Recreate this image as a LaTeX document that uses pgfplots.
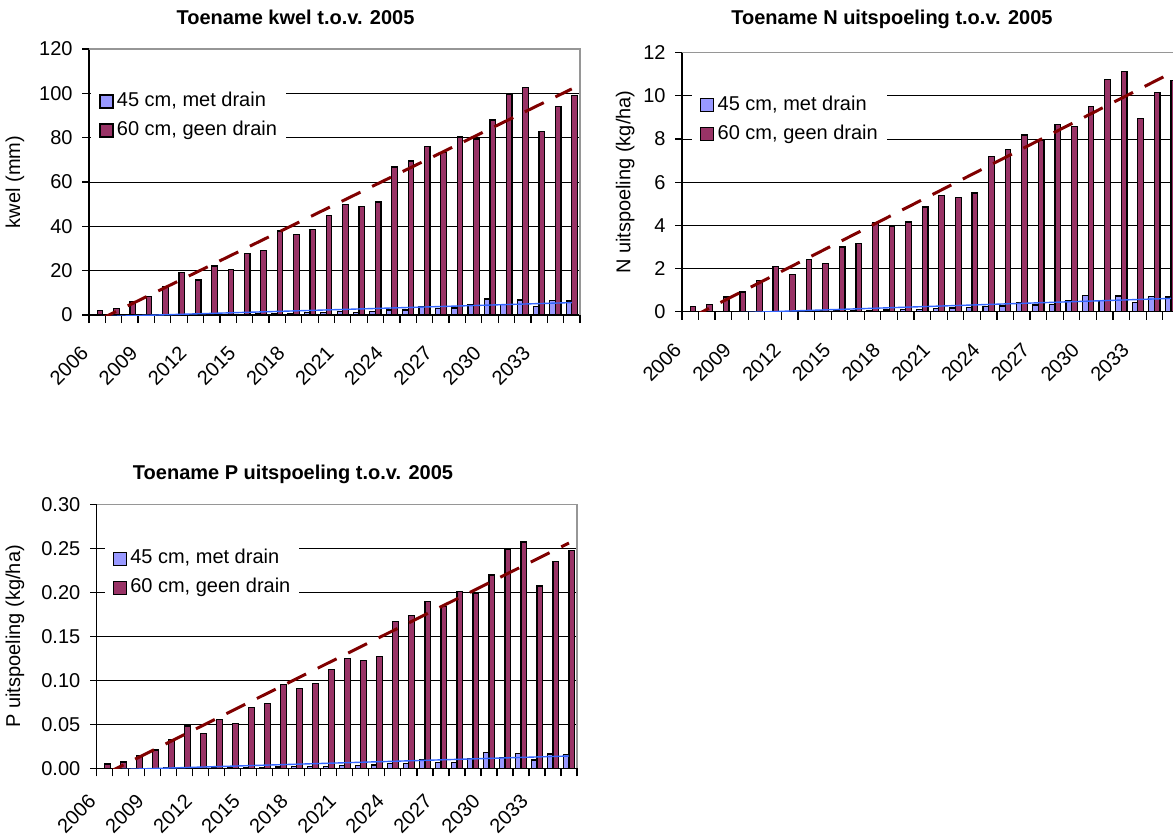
\documentclass[border=0pt]{standalone}
\usepackage{fontspec}
\setmainfont{Liberation Sans}
\usepackage{pgfplots}
\usepackage{pgfplotstable}
\pgfplotsset{compat=1.18}

\definecolor{lavender}{RGB}{153,153,255}
\definecolor{plum}{RGB}{153,51,102}
\definecolor{trendred}{RGB}{128,0,0}
\definecolor{trendblue}{RGB}{51,102,255}
\definecolor{framegray}{RGB}{150,150,150}

% i = category index (2006 = 0), a = 45 cm met drain, b = 60 cm geen drain
\pgfplotstableread{
i  a     b
0  0     1.9
1  0     3.0
2  0     6.0
3  0     8.3
4  0.2   12.9
5  0.1   19.1
6  0.2   15.8
7  0.3   22.1
8  0.3   20.4
9  0.4   27.7
10 0.5   29.2
11 0.7   37.9
12 0.8   36.2
13 1.1   38.5
14 1.3   45.0
15 1.5   49.9
16 1.2   49.0
17 1.5   51.0
18 2.3   66.8
19 2.3   69.5
20 3.9   75.9
21 2.9   73.4
22 3.2   80.3
23 4.7   79.4
24 7.2   88.0
25 4.8   99.7
26 6.8   102.7
27 3.9   82.9
28 6.6   94.0
29 6.3   98.9
}\kwel

\pgfplotstableread{
i  a     b
0  0     0.25
1  0     0.34
2  0     0.68
3  0     0.91
4  0.02  1.44
5  0.01  2.10
6  0.02  1.72
7  0.03  2.41
8  0.03  2.23
9  0.04  3.00
10 0.05  3.17
11 0.07  4.12
12 0.08  3.93
13 0.11  4.16
14 0.12  4.85
15 0.15  5.38
16 0.17  5.30
17 0.20  5.50
18 0.23  7.20
19 0.26  7.51
20 0.40  8.19
21 0.31  7.95
22 0.33  8.67
23 0.50  8.58
24 0.76  9.50
25 0.51  10.77
26 0.73  11.13
27 0.42  8.95
28 0.71  10.17
29 0.68  10.71
}\nuit

\pgfplotstableread{
i  a       b
0  0       0.0049
1  0       0.0072
2  0       0.0150
3  0       0.0208
4  0.0005  0.0330
5  0.0002  0.0480
6  0.0005  0.0394
7  0.0007  0.0553
8  0.0007  0.0511
9  0.0009  0.0693
10 0.0011  0.0735
11 0.0016  0.0950
12 0.0019  0.0909
13 0.0025  0.0966
14 0.0023  0.1125
15 0.0030  0.1244
16 0.0030  0.1227
17 0.0038  0.1273
18 0.0057  0.1667
19 0.0057  0.1735
20 0.0095  0.1898
21 0.0064  0.1841
22 0.0068  0.2011
23 0.0114  0.1989
24 0.0178  0.2197
25 0.0121  0.2492
26 0.0170  0.2572
27 0.0095  0.2072
28 0.0163  0.2352
29 0.0155  0.2477
}\puit

\pgfplotsset{
  /pgfplots/labdrop/.initial=-14pt,
  excelbars/.style={
    scale only axis,
    anchor=south west,
    axis x line*=bottom, axis y line*=left,
    axis line style={black, line width=0.6pt},
    xmin=-0.5, xmax=29.5, ymin=0,
    xtick={0,3,...,27},
    xticklabels={2006,2009,2012,2015,2018,2021,2024,2027,2030,2033},
    minor xtick={-0.5,0.5,...,29.5},
    tick align=outside,
    major tick length=3.3pt, minor tick length=4pt,
    major x tick style={draw=none},
    tick style={black, line width=0.6pt},
    ymajorgrids, grid style={black, line width=0.5pt},
    font=\fontsize{10}{12}\selectfont,
    /pgf/number format/assume math mode=true,
    yticklabel style={inner sep=0pt, xshift=-4.7pt},
    xticklabel style={inner sep=0pt, xshift=-6.1pt,
      yshift=\pgfkeysvalueof{/pgfplots/labdrop}, rotate=45, anchor=east},
    every axis title shift=0pt,
    title style={font=\fontsize{10}{12}\selectfont\bfseries, anchor=base},
    ylabel style={anchor=center},
    legend style={draw=none, fill=white, anchor=north west,
      inner xsep=4pt, inner ysep=3pt,
      nodes={inner sep=0.5pt, text height=7.5pt, text depth=2.5pt},
      row sep=3.5pt, column sep=1.2pt},
    legend cell align=left,
    legend image code/.code={\draw[#1, line width=0.6pt] (0pt,-3.25pt) rectangle (6.5pt,3.25pt);},
  },
  bara/.style={ybar, bar width=0.34, bar shift=-0.17, fill=lavender, draw=black, line width=0.6pt},
  barb/.style={ybar, bar width=0.34, bar shift=0.17, fill=plum, draw=black, line width=0.6pt},
  trendb/.style={forget plot, trendred, line width=1.5pt, dash pattern=on 10.5pt off 6.5pt},
  trenda/.style={forget plot, trendblue, line width=0.7pt},
}

\begin{document}
\begin{tikzpicture}

\begin{axis}[excelbars, name=p1,
  at={(44.5pt,-157.5pt)}, width=245.5pt, height=133pt,
  ymax=120, ytick={0,20,...,120},
  ylabel={kwel (mm)},
  ylabel style={at={(axis description cs:-0.151,0.5)}},
  title={Toename kwel t.o.v. 2005},
  title style={at={(axis description cs:0.4206,1.094)}},
  legend style={at={(axis description cs:0.004,0.8677)}}]
\addplot[bara] table[x=i, y=a] {\kwel};
\addlegendentry{45 cm, met drain}
\addplot[barb] table[x=i, y=b] {\kwel};
\addlegendentry{60 cm, geen drain}
\addplot[trenda] coordinates {(0,-0.81) (29,5.6)};
\addplot[trendb] coordinates {(0,-2.6) (29,102.0)};
\end{axis}

\begin{axis}[excelbars, name=p2,
  at={(340.95pt,-155.85pt)}, width=248.7pt, height=129.5pt,
  ymax=12, ytick={0,2,...,12},
  ylabel={N uitspoeling (kg/ha)},
  ylabel style={at={(axis description cs:-0.114,0.5)}},
  title={Toename N uitspoeling t.o.v. 2005},
  title style={at={(axis description cs:0.4224,1.107)}},
  legend style={at={(axis description cs:0.0197,0.8641)}}]
\addplot[bara] table[x=i, y=a] {\nuit};
\addlegendentry{45 cm, met drain}
\addplot[barb] table[x=i, y=b] {\nuit};
\addlegendentry{60 cm, geen drain}
\addplot[trenda] coordinates {(0,-0.122) (29,0.616)};
\addplot[trendb] coordinates {(0,-0.29) (29,11.06)};
\end{axis}

\begin{axis}[excelbars, name=p3, labdrop=-11.5pt,
  at={(48.35pt,-384.15pt)}, width=240.15pt, height=132pt,
  ymax=0.30, ytick={0,0.05,0.10,0.15,0.20,0.25,0.30},
  scaled y ticks=false,
  yticklabel style={/pgf/number format/.cd, fixed, fixed zerofill, precision=2},
  ylabel={P uitspoeling (kg/ha)},
  ylabel style={at={(axis description cs:-0.170,0.5)}},
  title={Toename P uitspoeling t.o.v. 2005},
  title style={at={(axis description cs:0.4087,1.0947)}},
  legend style={at={(axis description cs:0.0158,0.860)}}]
\addplot[bara] table[x=i, y=a] {\puit};
\addlegendentry{45 cm, met drain}
\addplot[barb] table[x=i, y=b] {\puit};
\addlegendentry{60 cm, geen drain}
\addplot[trenda] coordinates {(0,-0.0019) (29,0.0140)};
\addplot[trendb] coordinates {(0,-0.0068) (29,0.256)};
\end{axis}

\foreach \p in {p1,p2,p3}
  \draw[framegray, line width=0.6pt] (\p.north west) -- (\p.north east) -- (\p.south east);

\pgfresetboundingbox
\path[use as bounding box] (0pt,0pt) rectangle (586.5pt,-417.5pt);
\end{tikzpicture}
\end{document}
